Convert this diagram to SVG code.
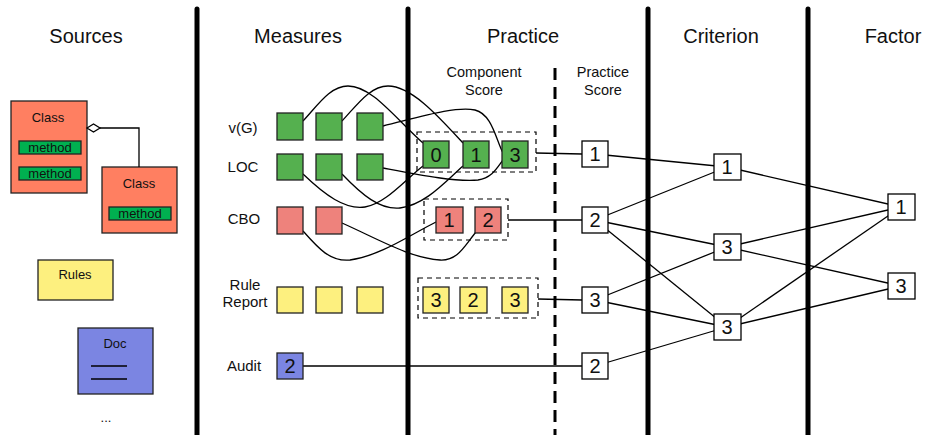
<svg xmlns="http://www.w3.org/2000/svg" width="925" height="435" viewBox="0 0 925 435">
<style>
text{font-family:"Liberation Sans",Arial,sans-serif;fill:#111}
.title{font-size:20px;text-anchor:middle}
.lbl{font-size:15px;text-anchor:middle}
.sub{font-size:14.5px;text-anchor:middle}
.small{font-size:13px;text-anchor:middle}
.num{font-size:20px;text-anchor:middle}
.sep{stroke:#000;stroke-width:5;stroke-linecap:round}
.dsep{stroke:#000;stroke-width:3;stroke-dasharray:12 7}
.dbox{fill:none;stroke:#000;stroke-width:1.2;stroke-dasharray:5 4}
.g{fill:#55B04F;stroke:#222;stroke-width:1.3}
.r{fill:#EE827C;stroke:#222;stroke-width:1.3}
.y{fill:#FDF07F;stroke:#222;stroke-width:1.3}
.b{fill:#7B85E2;stroke:#222;stroke-width:1.3}
.w{fill:#fff;stroke:#000;stroke-width:1.3}
.cls{fill:#FF7F61;stroke:#222;stroke-width:1.3}
.meth{fill:#00B050;stroke:#222;stroke-width:1.3}
.ln{fill:none;stroke:#000;stroke-width:1.3}
</style>
<rect width="925" height="435" fill="#fff"/>
<g id="separators">
<line class="sep" x1="197" y1="9" x2="197" y2="435"/>
<line class="sep" x1="408" y1="9" x2="408" y2="435"/>
<line class="sep" x1="648" y1="9" x2="648" y2="435"/>
<line class="sep" x1="808" y1="9" x2="808" y2="435"/>
<line class="dsep" x1="555" y1="68" x2="555" y2="435"/>
</g>
<g id="titles">
<text class="title" x="86" y="43">Sources</text>
<text class="title" x="298" y="43">Measures</text>
<text class="title" x="523" y="43">Practice</text>
<text class="title" x="721" y="43">Criterion</text>
<text class="title" x="893" y="43">Factor</text>
<text class="sub" x="484" y="77">Component</text>
<text class="sub" x="484" y="95">Score</text>
<text class="sub" x="603" y="77">Practice</text>
<text class="sub" x="603" y="95">Score</text>
</g>
<g id="sources">
<g id="class1">
<rect class="cls" x="11" y="101" width="76" height="92"/>
<text class="small" x="48" y="122">Class</text>
<rect class="meth" x="19" y="141" width="62" height="13"/>
<text class="small" x="50" y="151.8">method</text>
<rect class="meth" x="19" y="167" width="62" height="13"/>
<text class="small" x="50" y="177.8">method</text>
</g>
<g id="class2">
<rect class="cls" x="102" y="167" width="75" height="66"/>
<text class="small" x="139" y="188">Class</text>
<rect class="meth" x="109" y="207" width="62" height="13"/>
<text class="small" x="140" y="217.8">method</text>
</g>
<path class="ln" d="M100,128 L139,128 L139,167"/>
<path d="M87,128 L93.5,124 L100,128 L93.5,132 Z" fill="#fff" stroke="#000" stroke-width="1.3"/>
<g id="rules">
<rect class="y" x="38" y="260" width="75" height="40"/>
<text class="small" x="75" y="279">Rules</text>
</g>
<g id="doc">
<rect class="b" x="78" y="328" width="75" height="66"/>
<text class="small" x="115" y="348">Doc</text>
<line x1="91" y1="366" x2="127" y2="366" stroke="#000" stroke-width="1.3"/>
<line x1="91" y1="379" x2="127" y2="379" stroke="#000" stroke-width="1.3"/>
</g>
<text class="small" x="106" y="422">...</text>
</g>
<g id="connectors">
<path class="ln" d="M303,121 C318,105 330,86 348,86 C372,86 395,118 423,143"/>
<path class="ln" d="M342,121 C357,105 370,86 388,86 C412,86 440,118 463,143"/>
<path class="ln" d="M383,126 C420,117 455,106 475,110 C492,114 496,140 503,153"/>
<path class="ln" d="M303,174 C325,195 345,210 365,207 C385,204 405,180 423,166"/>
<path class="ln" d="M342,174 C362,195 380,210 400,208 C425,205 445,182 463,166"/>
<path class="ln" d="M383,168 C420,175 455,182 478,180 C492,178 497,168 503,160"/>
<path class="ln" d="M303,231 C318,248 330,262 350,260 C380,256 410,235 436,222"/>
<path class="ln" d="M342,223 C380,240 410,258 440,260 C458,261 465,245 476,232"/>
<line class="ln" x1="536" y1="153" x2="582" y2="154"/>
<line class="ln" x1="508" y1="220" x2="582" y2="220"/>
<line class="ln" x1="538" y1="299" x2="582" y2="300"/>
<line class="ln" x1="303" y1="366" x2="582" y2="366"/>
<line class="ln" x1="595" y1="154" x2="727" y2="167"/>
<line class="ln" x1="595" y1="220" x2="727" y2="167"/>
<line class="ln" x1="595" y1="220" x2="727" y2="247"/>
<line class="ln" x1="595" y1="220" x2="727" y2="327"/>
<line class="ln" x1="595" y1="300" x2="727" y2="247"/>
<line class="ln" x1="595" y1="300" x2="727" y2="327"/>
<line class="ln" x1="595" y1="366" x2="727" y2="327"/>
<line class="ln" x1="727" y1="167" x2="901" y2="207"/>
<line class="ln" x1="727" y1="247" x2="901" y2="207"/>
<line class="ln" x1="727" y1="247" x2="901" y2="286"/>
<line class="ln" x1="727" y1="327" x2="901" y2="207"/>
<line class="ln" x1="727" y1="327" x2="901" y2="286"/>
</g>
<g id="measures">
<text class="lbl" x="243" y="133">v(G)</text>
<text class="lbl" x="243" y="172">LOC</text>
<text class="lbl" x="244" y="224">CBO</text>
<text class="lbl" x="245" y="290">Rule</text>
<text class="lbl" x="245" y="307">Report</text>
<text class="lbl" x="244" y="371">Audit</text>
<g id="vg"><rect class="g" x="277" y="113" width="26" height="27"/><rect class="g" x="316" y="113" width="26" height="27"/><rect class="g" x="357" y="113" width="26" height="27"/></g>
<g id="loc"><rect class="g" x="277" y="154" width="26" height="26"/><rect class="g" x="316" y="154" width="26" height="26"/><rect class="g" x="357" y="154" width="26" height="26"/></g>
<g id="cbo"><rect class="r" x="277" y="207" width="26" height="27"/><rect class="r" x="316" y="207" width="26" height="27"/></g>
<g id="rulereport"><rect class="y" x="277" y="287" width="26" height="26"/><rect class="y" x="316" y="287" width="26" height="26"/><rect class="y" x="357" y="287" width="26" height="26"/></g>
<g id="audit"><rect class="b" x="277" y="353" width="26" height="26"/><text class="num" x="290" y="373">2</text></g>
</g>
<g id="component-scores">
<rect class="dbox" x="417" y="132" width="119" height="40"/>
<g id="cs-0"><rect class="g" x="423" y="141" width="26" height="27"/><text class="num" x="436" y="162">0</text></g>
<g id="cs-1"><rect class="g" x="463" y="141" width="26" height="27"/><text class="num" x="476" y="162">1</text></g>
<g id="cs-3"><rect class="g" x="502" y="141" width="26" height="27"/><text class="num" x="515" y="162">3</text></g>
<rect class="dbox" x="424" y="199" width="84" height="41"/>
<g id="cs-r1"><rect class="r" x="436" y="207" width="27" height="26"/><text class="num" x="449" y="227">1</text></g>
<g id="cs-r2"><rect class="r" x="475" y="207" width="26" height="26"/><text class="num" x="488" y="227">2</text></g>
<rect class="dbox" x="418" y="278" width="120" height="40"/>
<g id="cs-y1"><rect class="y" x="423" y="287" width="26" height="26"/><text class="num" x="436" y="307">3</text></g>
<g id="cs-y2"><rect class="y" x="460" y="287" width="27" height="26"/><text class="num" x="473" y="307">2</text></g>
<g id="cs-y3"><rect class="y" x="502" y="287" width="26" height="26"/><text class="num" x="515" y="307">3</text></g>
</g>
<g id="practice-scores">
<g id="ps-1"><rect class="w" x="582" y="141" width="26" height="26"/><text class="num" x="595" y="161">1</text></g>
<g id="ps-2"><rect class="w" x="582" y="207" width="26" height="26"/><text class="num" x="595" y="227">2</text></g>
<g id="ps-3"><rect class="w" x="582" y="287" width="26" height="26"/><text class="num" x="595" y="307">3</text></g>
<g id="ps-4"><rect class="w" x="582" y="353" width="26" height="26"/><text class="num" x="595" y="373">2</text></g>
</g>
<g id="criteria">
<g id="cr-1"><rect class="w" x="714" y="154" width="27" height="26"/><text class="num" x="727" y="174">1</text></g>
<g id="cr-2"><rect class="w" x="714" y="234" width="27" height="26"/><text class="num" x="727" y="254">3</text></g>
<g id="cr-3"><rect class="w" x="714" y="314" width="27" height="26"/><text class="num" x="727" y="334">3</text></g>
</g>
<g id="factors">
<g id="f-1"><rect class="w" x="888" y="194" width="27" height="26"/><text class="num" x="901" y="214">1</text></g>
<g id="f-2"><rect class="w" x="888" y="273" width="27" height="26"/><text class="num" x="901" y="293">3</text></g>
</g>
</svg>
